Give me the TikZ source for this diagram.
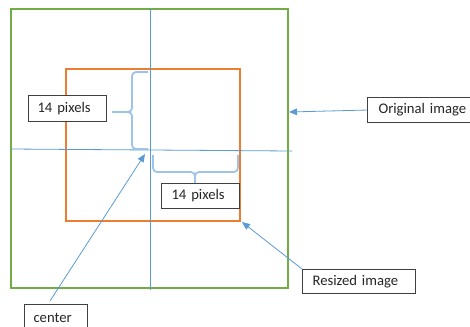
\documentclass[tikz,border=0pt]{standalone}
\usepackage{fontspec}
\setmainfont{Carlito}
\usetikzlibrary{arrows.meta}
\definecolor{lnblue}{HTML}{5B9BD5}
\definecolor{brblue}{HTML}{9DC3E6}
\definecolor{grn}{HTML}{70AD47}
\definecolor{org}{HTML}{ED7D31}
\definecolor{boxgray}{HTML}{404040}
\tikzset{
  lbl/.style={draw=boxgray, fill=white, line width=0.8pt, anchor=north west,
    align=left, inner ysep=0pt, text=black!85,
    font=\fontsize{11}{13}\selectfont},
  guide/.style={draw=lnblue, line width=0.6pt},
  brace/.style={draw=brblue, line width=1.3pt, rounded corners=3pt},
  pointer/.style={draw=lnblue, line width=0.6pt,
    -{Triangle[length=6pt,width=5pt]}},
}
\begin{document}
\begin{tikzpicture}[x=0.75pt,y=-0.75pt]
\useasboundingbox (0,0) rectangle (470,326);
\clip (0,0) rectangle (470,326);
\fill[white] (0,0) rectangle (470,326);
% rectangles
\draw[grn, line width=1.5pt] (11,9) rectangle (288,288);
\draw[org, line width=1.2pt] (66,69) rectangle (240,221);
% guide lines
\draw[guide] (150,9) -- (150,290);
\draw[guide] (11,149) -- (292,151);
% braces
\draw[brace] (148,72) -- (132,72) -- (132,112) -- (112,112);
\draw[brace] (148,149) -- (132,149) -- (132,112) -- (112,112);
\draw[brace] (153,155) -- (153,172) -- (195,172) -- (195,183);
\draw[brace] (238,155) -- (238,172) -- (195,172) -- (195,183);
% labels
\node[lbl, minimum width=58.5pt, minimum height=19.5pt, inner xsep=6.75pt, text width=45pt] (px1) at (28,95) {14 pixels};
\node[lbl, minimum width=58.5pt, minimum height=18.75pt, inner xsep=7.5pt, text width=43.5pt] (px2) at (161,183) {14 pixels};
\node[lbl, minimum width=87pt, minimum height=18.75pt, inner xsep=8.25pt, text width=70.5pt] (orig) at (367,97) {Original image};
\node[lbl, minimum width=84.75pt, minimum height=18pt, inner xsep=7.5pt, text width=69.75pt] (res) at (302,269) {Resized image};
\node[lbl, minimum width=47.25pt, minimum height=19.5pt, inner xsep=6.75pt, text width=33.75pt] (ctr) at (24,304) {center};
% targets
\coordinate (cpt) at (145,154);
\coordinate (gpt) at (289,112);
\coordinate (opt) at (242,222);
\coordinate (cstart) at (50,301);
% pointers
\draw[pointer] (orig.west) -- (gpt);
\draw[pointer] (res.north west) -- (opt);
\draw[pointer] (cstart) -- (cpt);
\end{tikzpicture}
\end{document}
